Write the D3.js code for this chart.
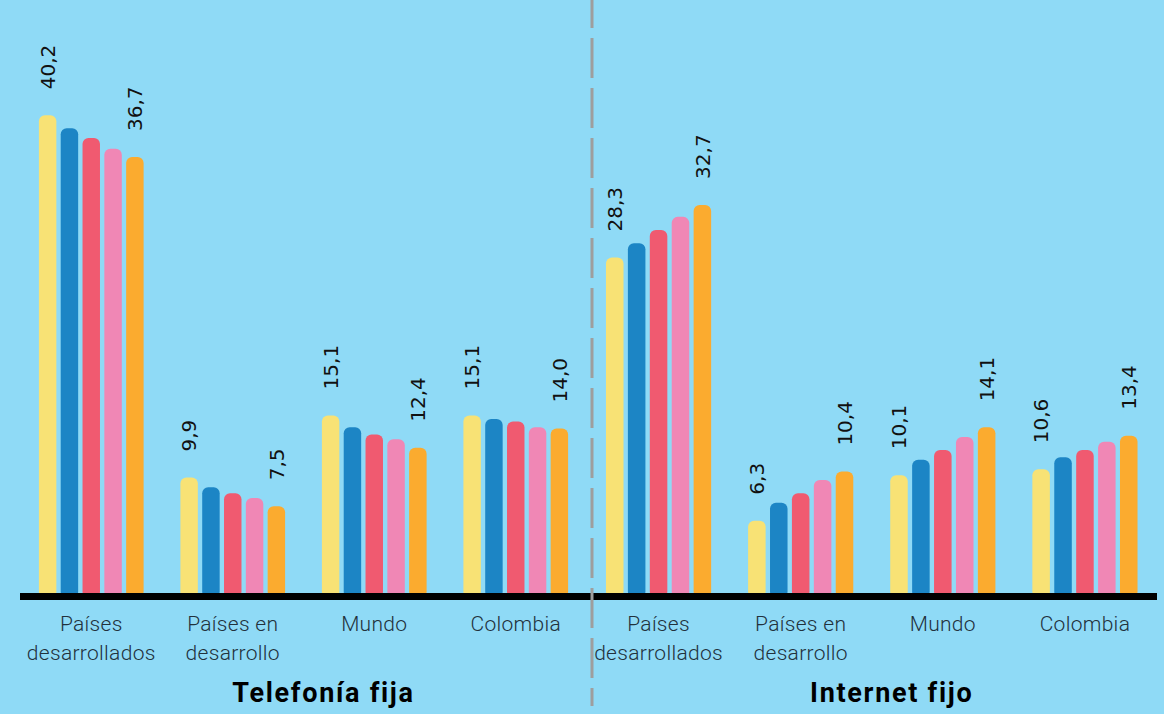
<!DOCTYPE html>
<html>
<head>
<meta charset="utf-8">
<script src="https://cdn.jsdelivr.net/npm/d3@7"></script>
<style>
  html, body { margin: 0; padding: 0; background: #8FDAF6; }
  svg { display: block; }
</style>
</head>
<body>
<div id="chart"></div>
<script>
// data
const panels = ["Telefonía fija", "Internet fijo"];
const categories = ["Países desarrollados", "Países en desarrollo", "Mundo", "Colombia"];
const catLines = [["Países", "desarrollados"], ["Países en", "desarrollo"], ["Mundo"], ["Colombia"]];
const series = ["s1", "s2", "s3", "s4", "s5"];
const telefonia = [
    [40.2, 39.1, 38.3, 37.4, 36.7],
    [9.9, 9.1, 8.6, 8.2, 7.5],
    [15.1, 14.1, 13.5, 13.1, 12.4],
    [15.1, 14.8, 14.6, 14.1, 14.0]
];
const internet = [
    [28.3, 29.5, 30.6, 31.7, 32.7],
    [6.3, 7.8, 8.6, 9.7, 10.4],
    [10.1, 11.4, 12.2, 13.3, 14.1],
    [10.6, 11.6, 12.2, 12.9, 13.4]
];
const colors = ["#F8E275", "#1C85C5", "#F05A70", "#F087B5", "#FBAB2F"];

const w = 1164, h = 714;
const zeroY = 596;

var svg = d3.select("#chart").append("svg")
    .attr("width", w)
    .attr("height", h);

svg.append("rect").attr("width", w).attr("height", h).attr("fill", "#8FDAF6");

var y = d3.scaleLinear().domain([0, 45]).range([zeroY, zeroY - 45 * 11.96]);

var comma = d3.formatLocale({ decimal: ",", thousands: ".", grouping: [3], currency: ["", ""] }).format(".1f");

var panelData = [telefonia, internet];
var panelRanges = [[20.5, 586.5], [587.5, 1156]];

panelData.forEach(function(data, p) {

    var x0 = d3.scaleBand()
        .domain(categories)
        .range(panelRanges[p])
        .paddingInner(0.26)
        .paddingOuter(0.13);

    var x1 = d3.scaleBand()
        .domain(series)
        .range([0, x0.bandwidth()])
        .paddingInner(0.2);

    var g = svg.append("g");

    var groups = g.selectAll("g.group")
        .data(categories)
        .enter().append("g")
        .attr("class", "group")
        .attr("transform", function(d) { return "translate(" + x0(d) + ",0)"; });

    groups.selectAll("rect")
        .data(function(d, i) { return data[i].map(function(v, j) { return { s: series[j], v: v, j: j }; }); })
        .enter().append("rect")
        .attr("x", function(d) { return x1(d.s); })
        .attr("y", function(d) { return y(d.v); })
        .attr("width", x1.bandwidth())
        .attr("height", function(d) { return zeroY - y(d.v) + 2; })
        .attr("rx", 6)
        .attr("fill", function(d) { return colors[d.j]; });

    // value labels on first and last bar only
    groups.selectAll("text.val")
        .data(function(d, i) {
            return data[i].map(function(v, j) { return { s: series[j], v: v, j: j }; })
                .filter(function(d) { return d.j === 0 || d.j === series.length - 1; });
        })
        .enter().append("text")
        .attr("class", "val")
        .attr("transform", function(d) {
            return "translate(" + (x1(d.s) + x1.bandwidth() / 2) + "," + (y(d.v) - 26) + ") rotate(-90)";
        })
        .attr("dy", "0.36em")
        .attr("font-family", "DejaVu Sans, sans-serif")
        .attr("font-size", 20)
        .attr("fill", "#111")
        .text(function(d) { return comma(d.v); });

    // category labels
    var cat = g.selectAll("text.cat")
        .data(categories)
        .enter().append("text")
        .attr("class", "cat")
        .attr("x", function(d) { return x0(d) + x0.bandwidth() / 2; })
        .attr("y", 631)
        .attr("text-anchor", "middle")
        .attr("font-family", "Roboto, sans-serif")
        .attr("font-weight", 300)
        .attr("font-size", 21)
        .attr("letter-spacing", 0.3)
        .attr("fill", "#22313c");

    cat.selectAll("tspan")
        .data(function(d, i) { return catLines[i]; })
        .enter().append("tspan")
        .attr("x", function() { return d3.select(this.parentNode).attr("x"); })
        .attr("dy", function(d, i) { return i === 0 ? 0 : 28.5; })
        .text(function(d) { return d; });

    // panel title
    svg.append("text")
        .attr("x", (panelRanges[p][0] + panelRanges[p][1]) / 2 + 20)
        .attr("y", 702)
        .attr("text-anchor", "middle")
        .attr("font-family", "Roboto, sans-serif")
        .attr("font-weight", 700)
        .attr("font-size", 27)
        .attr("letter-spacing", 1.7)
        .attr("fill", "#000")
        .text(panels[p]);
});

// baseline
svg.append("rect")
    .attr("x", 20)
    .attr("y", 593)
    .attr("width", 1137)
    .attr("height", 7)
    .attr("fill", "#000");

// dashed separator
svg.append("line")
    .attr("x1", 592).attr("x2", 592)
    .attr("y1", -12).attr("y2", 706)
    .attr("stroke", "#9E9E9E")
    .attr("stroke-width", 3)
    .attr("stroke-dasharray", "40,10");
</script>
</body>
</html>
